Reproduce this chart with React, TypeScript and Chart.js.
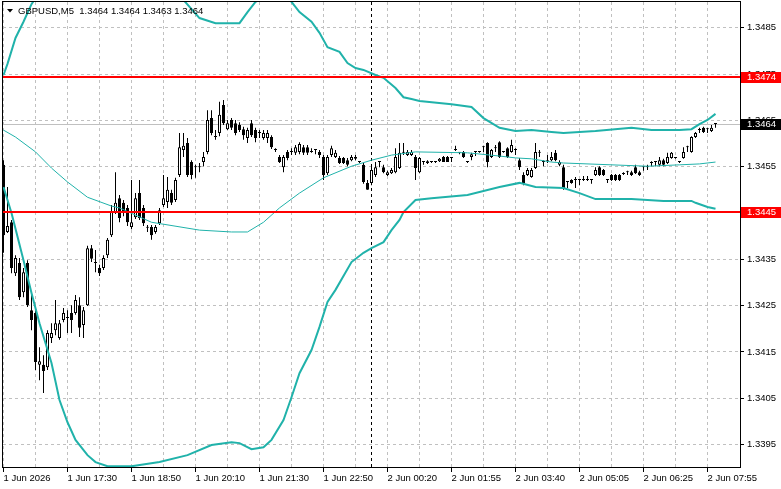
import React, { useEffect, useRef } from 'react';
import { Chart, registerables } from 'chart.js';
Chart.register(...registerables);

// ---------- data ----------
const opens = [1.34554,1.34409,1.34430,1.34320,1.34342,1.34279,1.34342,1.34240,1.34234,1.34122,1.34122,1.34117,1.34180,1.34197,1.34180,1.34219,1.34223,1.34234,1.34234,1.34251,1.34208,1.34251,1.34374,1.34342,1.34331,1.34331,1.34359,1.34402,1.34452,1.34482,1.34472,1.34461,1.34420,1.34441,1.34493,1.34461,1.34418,1.34420,1.34409,1.34428,1.34467,1.34474,1.34493,1.34478,1.34532,1.34586,1.34601,1.34560,1.34549,1.34549,1.34560,1.34582,1.34655,1.34614,1.34623,1.34683,1.34631,1.34651,1.34644,1.34640,1.34631,1.34612,1.34644,1.34629,1.34623,1.34612,1.34612,1.34614,1.34586,1.34571,1.34549,1.34582,1.34582,1.34580,1.34582,1.34592,1.34592,1.34582,1.34586,1.34582,1.34571,1.34536,1.34575,1.34571,1.34569,1.34569,1.34564,1.34564,1.34567,1.34560,1.34554,1.34515,1.34515,1.34532,1.34560,1.34549,1.34532,1.34536,1.34538,1.34547,1.34580,1.34575,1.34575,1.34571,1.34538,1.34560,1.34558,1.34560,1.34560,1.34562,1.34571,1.34571,1.34569,1.34586,1.34580,1.34582,1.34560,1.34571,1.34582,1.34582,1.34592,1.34601,1.34571,1.34590,1.34603,1.34582,1.34590,1.34582,1.34586,1.34564,1.34532,1.34532,1.34528,1.34547,1.34580,1.34560,1.34562,1.34564,1.34580,1.34554,1.34549,1.34517,1.34521,1.34521,1.34521,1.34521,1.34521,1.34521,1.34532,1.34549,1.34543,1.34521,1.34532,1.34532,1.34532,1.34534,1.34538,1.34538,1.34549,1.34538,1.34549,1.34549,1.34558,1.34560,1.34554,1.34564,1.34558,1.34569,1.34569,1.34560,1.34569,1.34592,1.34582,1.34614,1.34629,1.34634,1.34631,1.34627,1.34642];
const highs = [1.34564,1.34506,1.34435,1.34359,1.34353,1.34331,1.34348,1.34273,1.34240,1.34160,1.34143,1.34197,1.34212,1.34262,1.34219,1.34245,1.34240,1.34251,1.34273,1.34268,1.34247,1.34379,1.34381,1.34370,1.34338,1.34359,1.34396,1.34467,1.34538,1.34489,1.34478,1.34467,1.34521,1.34493,1.34521,1.34467,1.34424,1.34424,1.34424,1.34461,1.34532,1.34528,1.34500,1.34526,1.34623,1.34623,1.34612,1.34564,1.34554,1.34558,1.34582,1.34672,1.34672,1.34629,1.34690,1.34694,1.34651,1.34655,1.34651,1.34646,1.34636,1.34634,1.34651,1.34634,1.34629,1.34629,1.34629,1.34618,1.34590,1.34575,1.34575,1.34586,1.34590,1.34597,1.34603,1.34597,1.34597,1.34590,1.34588,1.34586,1.34575,1.34575,1.34595,1.34586,1.34573,1.34571,1.34569,1.34575,1.34575,1.34562,1.34558,1.34521,1.34554,1.34560,1.34562,1.34554,1.34541,1.34547,1.34590,1.34601,1.34601,1.34586,1.34586,1.34575,1.34571,1.34562,1.34564,1.34562,1.34562,1.34569,1.34573,1.34573,1.34571,1.34595,1.34582,1.34584,1.34562,1.34580,1.34584,1.34584,1.34595,1.34603,1.34588,1.34597,1.34605,1.34584,1.34592,1.34608,1.34590,1.34569,1.34538,1.34547,1.34547,1.34601,1.34586,1.34564,1.34575,1.34582,1.34586,1.34564,1.34554,1.34519,1.34523,1.34528,1.34523,1.34530,1.34530,1.34523,1.34549,1.34551,1.34545,1.34523,1.34534,1.34534,1.34534,1.34538,1.34541,1.34541,1.34554,1.34541,1.34551,1.34554,1.34562,1.34562,1.34571,1.34567,1.34580,1.34582,1.34571,1.34562,1.34592,1.34595,1.34616,1.34625,1.34634,1.34636,1.34634,1.34640,1.34644];
const lows = [1.34364,1.34407,1.34320,1.34314,1.34262,1.34268,1.34247,1.34197,1.34111,1.34089,1.34061,1.34111,1.34169,1.34186,1.34176,1.34214,1.34191,1.34191,1.34230,1.34182,1.34180,1.34249,1.34344,1.34322,1.34314,1.34327,1.34353,1.34398,1.34448,1.34430,1.34443,1.34422,1.34415,1.34437,1.34435,1.34422,1.34409,1.34392,1.34405,1.34424,1.34463,1.34461,1.34467,1.34474,1.34528,1.34571,1.34528,1.34523,1.34526,1.34538,1.34551,1.34577,1.34618,1.34608,1.34616,1.34640,1.34629,1.34629,1.34618,1.34625,1.34608,1.34601,1.34614,1.34603,1.34612,1.34608,1.34601,1.34588,1.34582,1.34558,1.34538,1.34564,1.34575,1.34575,1.34577,1.34575,1.34575,1.34580,1.34577,1.34569,1.34521,1.34532,1.34571,1.34569,1.34556,1.34556,1.34551,1.34562,1.34564,1.34558,1.34513,1.34500,1.34510,1.34528,1.34549,1.34536,1.34530,1.34534,1.34536,1.34545,1.34575,1.34573,1.34573,1.34521,1.34536,1.34554,1.34556,1.34558,1.34558,1.34560,1.34560,1.34560,1.34560,1.34584,1.34577,1.34569,1.34558,1.34564,1.34573,1.34580,1.34582,1.34549,1.34569,1.34582,1.34569,1.34580,1.34569,1.34580,1.34575,1.34543,1.34510,1.34530,1.34526,1.34545,1.34571,1.34551,1.34558,1.34562,1.34562,1.34551,1.34500,1.34504,1.34513,1.34504,1.34510,1.34519,1.34519,1.34513,1.34530,1.34530,1.34530,1.34515,1.34519,1.34519,1.34519,1.34532,1.34532,1.34530,1.34534,1.34530,1.34541,1.34543,1.34551,1.34551,1.34551,1.34551,1.34556,1.34567,1.34567,1.34558,1.34567,1.34582,1.34580,1.34612,1.34623,1.34623,1.34623,1.34625,1.34634];
const closes = [1.34402,1.34422,1.34331,1.34353,1.34268,1.34322,1.34251,1.34219,1.34128,1.34130,1.34109,1.34191,1.34191,1.34212,1.34212,1.34234,1.34223,1.34219,1.34262,1.34202,1.34240,1.34374,1.34351,1.34342,1.34320,1.34353,1.34392,1.34452,1.34472,1.34439,1.34450,1.34430,1.34430,1.34482,1.34439,1.34428,1.34418,1.34402,1.34420,1.34456,1.34482,1.34500,1.34472,1.34521,1.34592,1.34595,1.34532,1.34532,1.34549,1.34549,1.34571,1.34651,1.34623,1.34614,1.34662,1.34644,1.34644,1.34634,1.34623,1.34629,1.34618,1.34629,1.34618,1.34612,1.34623,1.34623,1.34623,1.34592,1.34586,1.34560,1.34571,1.34569,1.34582,1.34592,1.34599,1.34580,1.34580,1.34582,1.34586,1.34575,1.34532,1.34571,1.34590,1.34580,1.34558,1.34558,1.34554,1.34571,1.34571,1.34560,1.34517,1.34500,1.34543,1.34549,1.34560,1.34538,1.34538,1.34543,1.34571,1.34580,1.34580,1.34582,1.34582,1.34547,1.34569,1.34560,1.34562,1.34560,1.34560,1.34567,1.34560,1.34560,1.34569,1.34586,1.34580,1.34571,1.34560,1.34577,1.34582,1.34582,1.34592,1.34560,1.34586,1.34590,1.34571,1.34582,1.34571,1.34597,1.34586,1.34549,1.34515,1.34543,1.34543,1.34582,1.34580,1.34560,1.34562,1.34571,1.34564,1.34560,1.34504,1.34517,1.34515,1.34521,1.34521,1.34521,1.34521,1.34521,1.34543,1.34532,1.34532,1.34521,1.34521,1.34521,1.34521,1.34534,1.34538,1.34532,1.34536,1.34532,1.34549,1.34549,1.34558,1.34560,1.34564,1.34554,1.34571,1.34580,1.34569,1.34560,1.34582,1.34592,1.34614,1.34623,1.34629,1.34625,1.34631,1.34634,1.34642];

// Bollinger bands, sampled at bar indexes
const upperBars = [0,1,3,5,7,8,9,12,16,21,27,32,37,42,45,49,53,59,61,63,66,68,70,72,74,77,79,81,84,86,88,90,93,95,98,100,102,104,112,117,120,124,128,132,137,140,148,157,162,169,172,174,176,178];
const upperVals = [1.34748,1.34772,1.34828,1.34863,1.34901,1.34914,1.34925,1.34968,1.35035,1.35042,1.35027,1.34988,1.34949,1.34919,1.34910,1.34871,1.34860,1.34860,1.34884,1.34906,1.34919,1.34936,1.34927,1.34906,1.34884,1.34863,1.34839,1.34808,1.34798,1.34774,1.34763,1.34759,1.34748,1.34742,1.34720,1.34700,1.34696,1.34692,1.34685,1.34679,1.34655,1.34634,1.34627,1.34629,1.34625,1.34623,1.34627,1.34634,1.34629,1.34629,1.34631,1.34642,1.34651,1.34664];
const middleBars = [0,3,8,12,16,21,27,29,37,49,57,61,65,69,74,80,87,92,97,103,116,124,128,132,137,140,152,161,169,174,178];
const middleVals = [1.34629,1.34614,1.34582,1.34547,1.34517,1.34484,1.34465,1.34461,1.34430,1.34413,1.34409,1.34409,1.34430,1.34461,1.34493,1.34526,1.34551,1.34564,1.34575,1.34582,1.34580,1.34573,1.34569,1.34567,1.34560,1.34558,1.34554,1.34551,1.34554,1.34556,1.34560];
const lowerBars = [0,2,5,7,9,12,14,16,18,21,23,26,32,39,46,52,57,59,62,65,67,70,72,74,77,79,81,83,87,90,92,95,97,99,100,103,107,116,124,129,133,140,144,148,157,165,172,173,176,178];
const lowerVals = [1.34506,1.34450,1.34348,1.34277,1.34212,1.34126,1.34046,1.33998,1.33960,1.33927,1.33912,1.33903,1.33903,1.33912,1.33927,1.33949,1.33955,1.33953,1.33940,1.33944,1.33960,1.34003,1.34052,1.34104,1.34154,1.34204,1.34258,1.34284,1.34344,1.34364,1.34374,1.34387,1.34413,1.34435,1.34452,1.34478,1.34482,1.34489,1.34506,1.34515,1.34506,1.34504,1.34493,1.34480,1.34480,1.34476,1.34476,1.34472,1.34463,1.34459];

const xGridBars = [0,8,16,24,32,40,48,56,64,72,80,88,96,104,112,120,128,136,144,152,160,168,176];
const xLabelBars = [0,16,32,48,64,80,96,112,128,144,160,176];
const xLabels = ['1 Jun 2026','1 Jun 17:30','1 Jun 18:50','1 Jun 20:10','1 Jun 21:30','1 Jun 22:50','2 Jun 00:20','2 Jun 01:55','2 Jun 03:40','2 Jun 05:05','2 Jun 06:25','2 Jun 07:55'];
const yTicks = [1.3395,1.3405,1.3415,1.3425,1.3435,1.3445,1.3455,1.3465,1.3475,1.3485];
const levelLines = [1.34744, 1.34452];
const bidPrice = 1.34642;
const separatorBar = 92;
const titleText = 'GBPUSD,M5  1.3464 1.3464 1.3463 1.3464';

const Y_MIN = 1.339014;
const Y_MAX = 1.349057;
const X_MIN = -0.125;
const X_MAX = 184.125;
const FONT = '"Liberation Sans", Arial, sans-serif';
const FSIZE = 9.5;
const TEAL = '#20b2aa';

const overlay = {
  id: 'mt4overlay',
  beforeDatasetsDraw(chart: any) {
    const { ctx, chartArea: a, scales } = chart;
    ctx.save();
    const yb = Math.round(scales.y.getPixelForValue(bidPrice)) + 0.5;
    ctx.strokeStyle = '#c0c0c0';
    ctx.lineWidth = 1;
    ctx.beginPath(); ctx.moveTo(a.left, yb); ctx.lineTo(a.right, yb); ctx.stroke();
    const xs = Math.floor(scales.x.getPixelForValue(separatorBar)) + 0.5;
    ctx.strokeStyle = '#000';
    ctx.setLineDash([3, 3]);
    ctx.beginPath(); ctx.moveTo(xs, a.top); ctx.lineTo(xs, a.bottom); ctx.stroke();
    ctx.restore();
  },
  afterDraw(chart: any) {
    const { ctx, chartArea: a, scales } = chart;
    const W = chart.width;
    ctx.save();
    // level lines
    ctx.fillStyle = '#ff0000';
    levelLines.forEach((v) => {
      const yy = Math.round(scales.y.getPixelForValue(v));
      ctx.fillRect(a.left, yy - 1, a.right - a.left, 2);
    });
    // frame
    ctx.strokeStyle = '#000';
    ctx.lineWidth = 1;
    ctx.strokeRect(a.left - 0.5, a.top - 0.5, a.right - a.left + 1, a.bottom - a.top + 1);
    // price labels on axis
    ctx.font = `${FSIZE}px ${FONT}`;
    ctx.textBaseline = 'middle';
    ctx.textAlign = 'left';
    const tag = (v: number, bg: string) => {
      const yy = Math.round(scales.y.getPixelForValue(v));
      ctx.fillStyle = bg;
      ctx.fillRect(a.right + 1, yy - 5, W - a.right - 1, 11);
      ctx.fillStyle = '#fff';
      ctx.fillText(v.toFixed(4), a.right + 7, yy + 0.5);
    };
    levelLines.forEach((v) => tag(v, '#ff0000'));
    tag(bidPrice, '#000');
    // title
    ctx.fillStyle = '#000';
    ctx.beginPath();
    ctx.moveTo(7, 9); ctx.lineTo(13, 9); ctx.lineTo(10, 12.5); ctx.closePath(); ctx.fill();
    ctx.font = `${FSIZE}px ${FONT}`;
    ctx.textBaseline = 'middle';
    ctx.fillText(titleText, 18, 11);
    ctx.restore();
  },
};

export default function App() {
  const ref = useRef<HTMLCanvasElement>(null);
  useEffect(() => {
    const canvas = ref.current!;
    const idx = opens.map((_, i) => i);
    const wicks = idx.map((i) => ({ x: i, y: [lows[i], highs[i]] }));
    const bodies = idx.map((i) => ({ x: i, y: [opens[i], closes[i]] }));
    const bodyColors = idx.map((i) => (closes[i] > opens[i] ? '#ffffff' : '#000000'));
    const pts = (b: number[], v: number[]) => b.map((x, k) => ({ x, y: v[k] }));
    const lineDs = (data: any[], w: number) => ({
      type: 'line' as const,
      data,
      borderColor: TEAL,
      borderWidth: w,
      pointRadius: 0,
      tension: 0,
      fill: false,
      order: -1,
      clip: 0,
    });
    const chart = new Chart(canvas, {
      type: 'bar',
      data: {
        datasets: [
          lineDs(pts(upperBars, upperVals), 2),
          lineDs(pts(middleBars, middleVals), 1),
          lineDs(pts(lowerBars, lowerVals), 2),
          {
            type: 'bar',
            data: bodies as any,
            backgroundColor: bodyColors,
            borderColor: '#000',
            borderWidth: 1,
            borderSkipped: false,
            barThickness: 3,
            minBarLength: 1,
            grouped: false,
            inflateAmount: 0,
            order: 0,
          } as any,
          {
            type: 'bar',
            data: wicks as any,
            backgroundColor: '#000',
            borderWidth: 0,
            barThickness: 1,
            grouped: false,
            inflateAmount: 0,
            order: 1,
          } as any,
        ],
      },
      options: {
        animation: false,
        responsive: false,
        devicePixelRatio: 1,
        events: [],
        layout: { padding: { left: 3, top: 2, right: 0, bottom: 0 }, autoPadding: false } as any,
        plugins: { legend: { display: false }, tooltip: { enabled: false }, title: { display: false } },
        scales: {
          x: {
            type: 'linear',
            min: X_MIN,
            max: X_MAX,
            offset: false,
            afterBuildTicks: (s: any) => { s.ticks = xGridBars.map((v) => ({ value: v })); },
            afterFit: (s: any) => { s.height = 22; s.paddingLeft = 0; s.paddingRight = 0; },
            grid: {
              color: '#c0c0c0',
              lineWidth: 1,
              offset: false,
              drawTicks: true,
              tickLength: 5,
              tickColor: (c: any) => (c.tick && xLabelBars.includes(c.tick.value) ? '#000' : 'rgba(0,0,0,0)'),
            },
            border: { display: false, dash: [3, 3] },
            ticks: {
              autoSkip: false,
              maxRotation: 0,
              minRotation: 0,
              align: 'start',
              padding: 1,
              color: '#000',
              font: { family: FONT, size: FSIZE },
              callback: (v: any) => {
                const k = xLabelBars.indexOf(Number(v));
                return k >= 0 ? xLabels[k] : '';
              },
            },
          } as any,
          y: {
            type: 'linear',
            position: 'right',
            min: Y_MIN,
            max: Y_MAX,
            beginAtZero: false,
            afterBuildTicks: (s: any) => { s.ticks = yTicks.map((v) => ({ value: v })); },
            afterFit: (s: any) => { s.width = 41; s.paddingTop = 0; s.paddingBottom = 0; },
            grid: {
              color: '#c0c0c0',
              lineWidth: 1,
              drawTicks: true,
              tickLength: 4,
              tickColor: '#000',
            },
            border: { display: false, dash: [3, 3] },
            ticks: {
              padding: 3,
              color: '#000',
              font: { family: FONT, size: FSIZE },
              callback: (v: any) => Number(v).toFixed(4),
            },
          } as any,
        },
      },
      plugins: [overlay],
    });
    return () => chart.destroy();
  }, []);
  return (
    <div style={{ position: 'fixed', left: 0, top: 0, width: 781, height: 489, background: '#fff' }}>
      <canvas ref={ref} width={781} height={489} style={{ display: 'block', width: 781, height: 489 }} />
    </div>
  );
}
